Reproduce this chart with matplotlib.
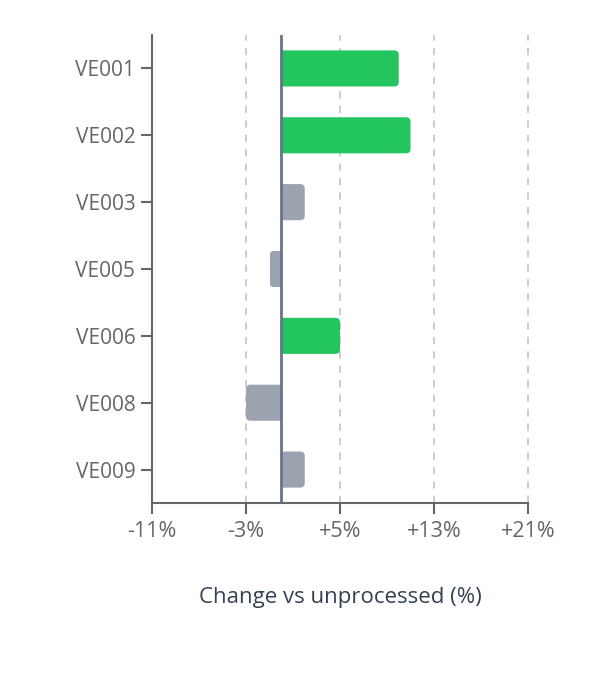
import matplotlib
matplotlib.use("Agg")
import matplotlib.pyplot as plt
from matplotlib.patches import FancyBboxPatch, Rectangle

plt.rcParams['font.family'] = ['Open Sans', 'DejaVu Sans']

# data
samples = ["VE001", "VE002", "VE003", "VE005", "VE006", "VE008", "VE009"]
change = [10.0, 11.0, 2.0, -1.0, 5.0, -3.0, 2.0]
xticks = [-11, -3, 5, 13, 21]
xtick_labels = ["-11%", "-3%", "+5%", "+13%", "+21%"]

green = "#22c55e"
grey = "#9ca3af"

fig = plt.figure(figsize=(6, 6.88), dpi=100)
ax = fig.add_axes([152/600, 1 - 503/688, 376/600, 468/688])

ax.set_xlim(-11, 21)
ax.set_ylim(len(samples) - 0.5, -0.5)

# rounded corner size, in x units, and aspect to keep it round in pixels
px_x = 376 / 32
px_y = 468 / len(samples)
rad = 4.5 / px_x
aspect = px_x / px_y
h = 0.54

for i, v in enumerate(change):
    col = green if v >= 5 else grey
    y0 = i - h / 2
    # rounded bar that runs past zero, then clipped at zero so that side is square
    if v >= 0:
        x0, w = -rad, v + rad
    else:
        x0, w = v, -v + rad
    bar = FancyBboxPatch((x0, y0), w, h,
                         boxstyle="round,pad=0,rounding_size=%f" % rad,
                         mutation_aspect=aspect, fc=col, ec="none", zorder=3)
    ax.add_patch(bar)
    clip = Rectangle((min(0, v), y0 - 0.1), abs(v), h + 0.2, transform=ax.transData)
    bar.set_clip_path(clip)

ax.axvline(0, color="#64748b", lw=2, zorder=4)

for t in xticks[1:]:
    ax.axvline(t, color="#c8c8c8", lw=1.3, ls=(0, (4, 4)), zorder=1, clip_on=False)

ax.set_yticks(range(len(samples)))
ax.set_yticklabels(samples)
ax.set_xticks(xticks)
ax.set_xticklabels(xtick_labels)

for s in ["top", "right"]:
    ax.spines[s].set_visible(False)
for s in ["left", "bottom"]:
    ax.spines[s].set_color("#666666")
    ax.spines[s].set_linewidth(1.5)

ax.tick_params(axis="both", colors="#666666", labelcolor="#666666",
               labelsize=15, length=8, width=1.5)
ax.tick_params(axis="x", labelsize=15.5, pad=5)
ax.tick_params(axis="y", pad=4)

ax.set_xlabel("Change vs unprocessed (%)", fontsize=16, color="#334155", labelpad=32)

fig.savefig("out.png", dpi=100)
